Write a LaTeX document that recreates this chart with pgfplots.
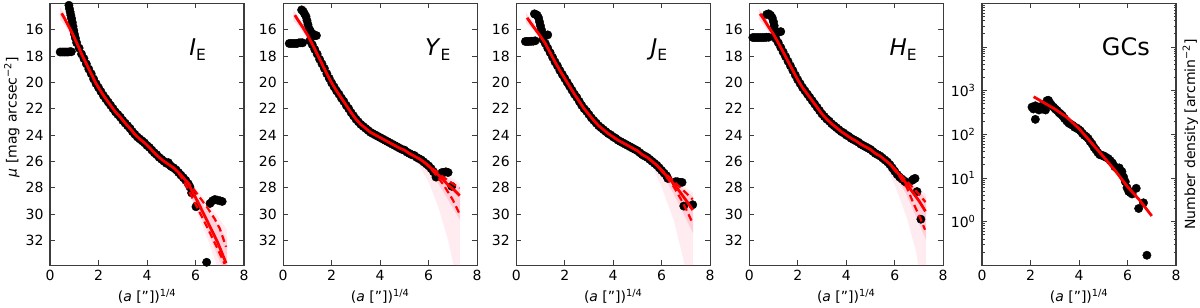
\documentclass[border=0pt]{standalone}
\usepackage{fontspec}
\setmainfont{DejaVu Sans}
\usepackage{pgfplots}
\pgfplotsset{compat=1.18}
\definecolor{axgray}{RGB}{60,60,60}
\definecolor{bandpink}{RGB}{255,70,110}
\pgfplotsset{
  common/.style={
    scale only axis, width=194pt, height=262pt, anchor=north west,
    clip mode=individual,
    xmin=0, xmax=8, xtick={0,2,4,6,8},
    axis line style={axgray, line width=1.1pt},
    every tick/.style={axgray, line width=0.9pt},
    major tick length=5pt, minor tick length=2.5pt,
    tick label style={font=\fontsize{14}{16}\selectfont},
    /pgf/number format/assume math mode=true,
    label style={font=\fontsize{14}{16}\selectfont},
    xlabel={(\textit{a} ["])\textsuperscript{1/4}},
    xlabel style={at={(axis description cs:0.5,-0.1376)}, anchor=base},
    xticklabel style={yshift=-1pt},
    yticklabel style={xshift=-3pt},
  },
  sb/.style={common, ymin=14, ymax=33.9, y dir=reverse, ytick={16,18,...,32}},
  dat/.style={only marks, mark=*, mark size=4.2pt, mark options={fill=black, draw=black}},
  mod/.style={red, line width=2.8pt, no marks},
  dsh/.style={red, line width=2.2pt, no marks, dash pattern=on 7pt off 4pt},
  bandA/.style={fill=bandpink, draw=none, fill opacity=0.10},
  bandB/.style={fill=bandpink, draw=none, fill opacity=0.18},
}
\newcommand{\plab}[1]{\fontsize{23}{25}\selectfont\textit{#1}\raisebox{-5pt}{\fontsize{15.5}{16}\selectfont E}}
\begin{document}
\begin{tikzpicture}
\path[use as bounding box] (0,0) rectangle (1200pt,-308pt);
% ---------------- I_E ----------------
\begin{axis}[sb, at={(50pt,-3.3pt)},
  ylabel={\textit{μ} [mag arcsec\textsuperscript{−2}]},
  ylabel style={at={(axis description cs:-0.197,0.566)}, anchor=center}]
\addplot[bandA] coordinates {(4.6,25.8) (5.0,26.4) (5.5,27.0) (6.0,28.0) (6.5,29.2) (7.0,30.4) (7.3,31.2) (7.3,34.5) (7.0,34.5) (6.9,34.0) (6.5,31.9) (6.0,29.6) (5.5,27.6) (5.0,26.6) (4.6,25.9)} -- cycle;
\addplot[bandB] coordinates {(5.2,26.7) (6.0,28.5) (6.5,29.8) (7.0,31.0) (7.3,32.0) (7.3,34.5) (7.0,33.6) (6.5,31.3) (6.0,29.3) (5.2,26.9)} -- cycle;
\addplot[bandB] coordinates {(0.42,14.3) (0.7,15.1) (1.0,16.2) (1.3,17.6) (1.3,18.1) (1.0,17.0) (0.7,15.9) (0.42,15.2)} -- cycle;
\addplot[dat] table {
x y
0.78 14.15
0.80 14.4
0.83 14.65
0.86 14.9
0.89 15.15
0.92 15.45
0.95 15.75
0.98 16.05
1.01 16.35
1.05 16.65
0.42 17.7
0.50 17.7
0.58 17.7
0.66 17.7
0.74 17.7
0.82 17.68
0.88 17.68
1.10 17.0
1.20 17.4
1.30 17.85
1.40 18.2
1.50 18.6
1.60 19.0
1.70 19.35
1.80 19.75
1.90 20.1
2.00 20.4
2.10 20.7
2.20 21.0
2.30 21.25
2.40 21.5
2.50 21.75
2.60 22.0
2.70 22.25
2.80 22.45
2.90 22.65
3.00 22.9
3.10 23.1
3.20 23.3
3.30 23.5
3.40 23.75
3.50 23.95
3.60 24.15
3.70 24.3
3.80 24.45
3.90 24.6
4.00 24.8
4.10 24.95
4.20 25.15
4.30 25.35
4.40 25.5
4.50 25.7
4.60 25.85
4.70 26.0
4.80 26.15
4.88 26.1
4.95 26.3
5.00 26.4
5.10 26.5
5.20 26.65
5.30 26.85
5.40 27.05
5.50 27.25
5.60 27.45
5.70 27.7
5.77 27.95
5.84 28.4
6.02 29.45
6.60 29.2
6.70 29.0
6.80 28.9
6.90 28.95
7.01 29.0
7.10 29.05
6.46 33.67
};
\addplot[mod] table {
x y
0.48 14.76
0.6 15.15
0.7 15.5
0.8 15.85
0.9 16.2
1.0 16.6
1.1 17.0
1.2 17.4
1.3 17.85
1.5 18.6
1.7 19.35
1.9 20.1
2.1 20.7
2.3 21.25
2.5 21.75
2.7 22.25
2.9 22.65
3.1 23.1
3.3 23.5
3.5 23.95
3.7 24.3
3.9 24.6
4.1 24.95
4.3 25.35
4.5 25.7
4.7 26.0
4.9 26.25
5.1 26.5
5.3 26.85
5.5 27.25
5.7 27.7
5.9 28.4
6.1 29.1
6.3 29.85
6.5 30.6
6.7 31.35
6.9 32.1
7.1 33.0
7.26 33.74
};
\addplot[dsh] table {
x y
5.3 26.85
5.6 27.4
5.9 28.05
6.2 28.8
6.5 29.55
6.8 30.4
7.0 31.1
7.26 32.5
};
\addplot[dsh] table {
x y
5.3 26.9
5.5 27.45
5.7 28.15
6.0 29.25
6.3 30.35
6.6 31.45
6.9 32.6
7.2 33.8
};
\node[anchor=base west] at (axis description cs:0.70,0.80) {\plab{I}};
\end{axis}
% ---------------- Y_E ----------------
\begin{axis}[sb, at={(283.2pt,-3.3pt)}]
\addplot[bandA] coordinates {(5.0,25.2) (5.5,25.6) (6.0,26.1) (6.5,26.7) (7.0,27.3) (7.3,27.7) (7.3,34.5) (7.1,34.5) (6.8,32.0) (6.4,29.5) (6.0,27.6) (5.5,26.0) (5.0,25.3)} -- cycle;
\addplot[bandB] coordinates {(5.8,25.95) (6.5,27.0) (7.3,28.0) (7.3,30.5) (6.5,28.0) (5.8,26.05)} -- cycle;
\addplot[bandB] coordinates {(0.42,14.5) (0.7,15.3) (1.0,16.1) (1.3,17.2) (1.3,17.8) (1.0,16.7) (0.7,15.9) (0.42,15.3)} -- cycle;
\addplot[dat] table {
x y
0.76 14.5
0.82 14.6
0.88 14.8
0.94 15.0
0.98 15.3
1.02 15.6
1.06 15.9
1.12 16.1
1.20 16.3
1.30 16.45
1.37 16.45
0.25 17.05
0.33 17.05
0.41 17.05
0.49 17.05
0.57 17.05
0.65 17.0
0.73 17.0
0.80 17.0
1.1 16.85
1.2 17.15
1.3 17.5
1.4 17.85
1.5 18.25
1.6 18.6
1.7 18.95
1.8 19.35
1.9 19.7
2.0 20.05
2.1 20.35
2.2 20.65
2.3 20.9
2.4 21.2
2.5 21.45
2.6 21.75
2.7 22.0
2.8 22.3
2.9 22.55
3.0 22.8
3.1 23.0
3.2 23.2
3.3 23.35
3.4 23.5
3.5 23.65
3.6 23.8
3.7 23.9
3.8 24.0
3.9 24.1
4.0 24.2
4.1 24.3
4.2 24.4
4.3 24.5
4.4 24.6
4.5 24.7
4.6 24.8
4.7 24.9
4.8 25.0
4.9 25.1
5.0 25.15
5.1 25.3
5.2 25.4
5.3 25.5
5.4 25.55
5.5 25.7
5.6 25.8
5.7 25.9
5.8 26.05
5.9 26.2
6.0 26.35
6.1 26.55
6.2 26.8
6.3 27.2
6.55 26.85
6.63 26.85
6.71 26.8
6.80 26.85
6.95 27.9
};
\addplot[mod] table {
x y
0.48 14.9
0.6 15.25
0.8 15.8
1.0 16.4
1.2 17.1
1.4 17.85
1.6 18.6
1.8 19.35
2.0 20.05
2.2 20.65
2.4 21.2
2.6 21.75
2.8 22.3
3.0 22.8
3.2 23.2
3.4 23.5
3.6 23.8
3.8 24.0
4.0 24.2
4.2 24.4
4.4 24.6
4.6 24.8
4.8 25.0
5.0 25.15
5.2 25.4
5.4 25.6
5.6 25.8
5.8 26.05
6.0 26.35
6.2 26.7
6.4 27.05
6.6 27.4
6.8 27.8
7.0 28.1
7.28 28.6
};
\addplot[dsh] table {
x y
5.8 26.05
6.2 26.6
6.6 27.2
7.0 27.7
7.27 28.05
};
\addplot[dsh] table {
x y
5.8 26.05
6.2 26.8
6.6 27.75
7.0 28.95
7.26 29.95
};
\node[anchor=base west] at (axis description cs:0.713,0.80) {\plab{Y}};
\end{axis}
% ---------------- J_E ----------------
\begin{axis}[sb, at={(516.2pt,-3.3pt)}]
\addplot[bandA] coordinates {(5.3,25.5) (6.0,26.4) (6.5,27.2) (7.0,28.0) (7.3,28.4) (7.3,34.5) (7.0,34.5) (6.9,33.5) (6.5,30.5) (6.0,28.0) (5.6,26.3) (5.3,25.7)} -- cycle;
\addplot[bandB] coordinates {(5.9,26.4) (6.5,27.5) (7.3,28.7) (7.3,31.5) (6.5,28.5) (5.9,26.6)} -- cycle;
\addplot[bandB] coordinates {(0.4,14.7) (0.7,15.4) (1.0,16.2) (1.3,17.1) (1.3,17.7) (1.0,16.8) (0.7,16.0) (0.4,15.5)} -- cycle;
\addplot[dat] table {
x y
0.75 14.8
0.80 14.85
0.86 14.9
0.92 15.1
0.96 15.4
1.00 15.7
1.04 16.0
1.08 16.3
1.18 16.4
1.30 16.4
0.38 16.9
0.46 16.9
0.54 16.9
0.62 16.88
0.70 16.88
0.78 16.85
1.1 16.75
1.2 17.05
1.3 17.4
1.4 17.75
1.5 18.1
1.6 18.45
1.7 18.75
1.8 19.1
1.9 19.4
2.0 19.7
2.1 20.0
2.2 20.3
2.3 20.6
2.4 20.9
2.5 21.15
2.6 21.45
2.7 21.75
2.8 22.0
2.9 22.2
3.0 22.45
3.1 22.7
3.2 22.9
3.3 23.1
3.4 23.3
3.5 23.45
3.6 23.6
3.7 23.75
3.8 23.9
3.9 24.0
4.0 24.15
4.1 24.25
4.2 24.4
4.3 24.5
4.4 24.6
4.5 24.7
4.6 24.8
4.7 24.9
4.8 25.0
4.9 25.1
5.0 25.2
5.1 25.35
5.2 25.5
5.3 25.6
5.4 25.7
5.5 25.85
5.6 26.0
5.7 26.15
5.8 26.3
5.9 26.5
6.0 26.7
6.1 26.9
6.2 27.1
6.25 27.3
6.57 27.55
6.65 27.55
6.75 27.6
6.84 27.6
6.91 29.4
7.28 29.3
};
\addplot[mod] table {
x y
0.45 15.1
0.6 15.5
0.8 16.0
1.0 16.5
1.2 17.05
1.4 17.75
1.6 18.45
1.8 19.1
2.0 19.7
2.2 20.3
2.4 20.9
2.6 21.45
2.8 22.0
3.0 22.45
3.2 22.9
3.4 23.3
3.6 23.6
3.8 23.9
4.0 24.15
4.2 24.4
4.4 24.6
4.6 24.8
4.8 25.0
5.0 25.2
5.2 25.5
5.4 25.7
5.6 26.0
5.8 26.3
6.0 26.7
6.2 27.1
6.4 27.5
6.6 27.95
6.8 28.45
7.0 28.95
7.28 29.7
};
\addplot[dsh] table {
x y
5.9 26.5
6.2 27.0
6.6 27.7
7.0 28.4
7.28 28.9
};
\addplot[dsh] table {
x y
5.9 26.5
6.2 27.2
6.5 27.95
6.8 28.9
7.05 29.8
7.25 30.6
};
\node[anchor=base west] at (axis description cs:0.675,0.80) {\plab{J}};
\end{axis}
% ---------------- H_E ----------------
\begin{axis}[sb, at={(749.2pt,-3.3pt)}]
\addplot[bandA] coordinates {(5.3,25.4) (6.0,26.4) (6.5,27.3) (7.0,28.1) (7.3,28.5) (7.3,34.5) (7.0,34.5) (6.9,33.0) (6.5,30.3) (6.0,27.8) (5.6,26.2) (5.3,25.6)} -- cycle;
\addplot[bandB] coordinates {(5.9,26.3) (6.5,27.5) (7.3,28.8) (7.3,32.0) (6.5,28.6) (5.9,26.6)} -- cycle;
\addplot[bandB] coordinates {(0.4,14.4) (0.7,15.2) (1.0,16.0) (1.3,17.0) (1.3,17.6) (1.0,16.7) (0.7,15.9) (0.4,15.2)} -- cycle;
\addplot[dat] table {
x y
0.72 14.85
0.80 14.8
0.88 14.9
0.95 15.1
1.00 15.4
1.03 15.7
1.05 16.0
1.08 16.3
1.20 16.2
1.30 16.15
0.15 16.6
0.23 16.6
0.31 16.6
0.39 16.6
0.47 16.6
0.55 16.6
0.63 16.6
0.71 16.58
0.80 16.58
1.1 16.7
1.2 17.0
1.3 17.35
1.4 17.7
1.5 18.05
1.6 18.4
1.7 18.75
1.8 19.1
1.9 19.45
2.0 19.8
2.1 20.1
2.2 20.4
2.3 20.65
2.4 20.9
2.5 21.15
2.6 21.4
2.7 21.65
2.8 21.9
2.9 22.15
3.0 22.4
3.1 22.6
3.2 22.8
3.3 22.95
3.4 23.15
3.5 23.3
3.6 23.45
3.7 23.6
3.8 23.75
3.9 23.85
4.0 24.0
4.1 24.1
4.2 24.25
4.3 24.35
4.4 24.45
4.5 24.55
4.6 24.7
4.7 24.8
4.8 24.9
4.9 25.0
5.0 25.1
5.1 25.25
5.2 25.4
5.3 25.5
5.4 25.6
5.5 25.75
5.6 25.9
5.7 26.05
5.8 26.25
5.9 26.5
6.0 26.75
6.1 27.0
6.2 27.2
6.3 27.35
6.4 27.5
6.47 27.6
6.72 27.45
6.78 27.35
6.84 27.3
6.92 28.3
7.08 30.4
};
\addplot[mod] table {
x y
0.45 14.8
0.6 15.2
0.8 15.8
1.0 16.35
1.2 17.0
1.4 17.7
1.6 18.4
1.8 19.1
2.0 19.8
2.2 20.4
2.4 20.9
2.6 21.4
2.8 21.9
3.0 22.4
3.2 22.8
3.4 23.15
3.6 23.45
3.8 23.75
4.0 24.0
4.2 24.25
4.4 24.45
4.6 24.7
4.8 24.9
5.0 25.1
5.2 25.4
5.4 25.6
5.6 25.9
5.8 26.2
6.0 26.6
6.2 27.05
6.4 27.5
6.6 28.0
6.8 28.5
7.0 29.0
7.27 29.8
};
\addplot[dsh] table {
x y
5.9 26.4
6.2 26.95
6.6 27.7
7.0 28.5
7.27 29.1
};
\addplot[dsh] table {
x y
5.9 26.45
6.2 27.15
6.5 28.0
6.8 29.3
7.05 30.3
7.25 31.2
};
\node[anchor=base west] at (axis description cs:0.705,0.80) {\plab{H}};
\end{axis}
% ---------------- GCs ----------------
\begin{axis}[common, at={(982pt,-3.3pt)}, ymode=log, ymin=0.1, ymax=1e5,
  ytick={0.1,1,10,100,1000,10000,100000},
  yticklabels={,10\textsuperscript{0},10\textsuperscript{1},10\textsuperscript{2},10\textsuperscript{3},,},
  ylabel={Number density [arcmin\textsuperscript{−2}]},
  ylabel style={at={(axis description cs:1.074,0.5)}, anchor=center}]
\addplot[dat] table {
x y
2.06 420
2.12 380
2.20 450
2.20 220
2.28 400
2.35 360
2.42 430
2.50 380
2.56 400
2.62 360
2.68 590
2.74 600
2.80 520
2.86 470
2.95 420
3.02 380
3.10 350
3.18 310
3.25 290
3.32 265
3.40 230
3.50 200
3.58 180
3.66 170
3.74 160
3.82 145
3.90 140
3.98 130
4.06 120
4.14 105
4.22 95
4.30 88
4.38 80
4.46 68
4.54 60
4.62 50
4.70 44
4.78 38
4.86 34
4.94 33
5.02 32
5.10 30
5.20 28
5.29 25
5.38 22
5.48 18
5.57 16.5
5.66 17
5.77 14
5.84 10.5
5.91 8.2
5.98 6
6.05 4.9
6.12 4.6
6.19 4.3
6.36 5.8
6.46 2.0
6.66 2.7
6.80 0.17
};
\addplot[mod] table {
x y
2.13 724
2.5 550
3.0 380
3.5 245
4.0 135
4.5 65
5.0 31
5.5 14.5
6.0 6.3
6.5 3.1
7.0 1.35
};
\node[anchor=base west, font=\fontsize{24}{26}\selectfont] at (axis description cs:0.60,0.80) {GCs};
\end{axis}
\end{tikzpicture}
\end{document}
